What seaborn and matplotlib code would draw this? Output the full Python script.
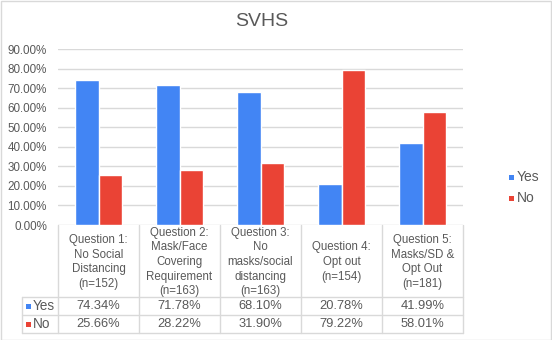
import matplotlib
matplotlib.use("Agg")
import matplotlib.pyplot as plt
import seaborn as sns
import pandas as pd
from matplotlib.transforms import blended_transform_factory
from matplotlib.lines import Line2D
from matplotlib.patches import Rectangle

title = "SVHS"
categories = [
    "Question 1:\nNo Social\nDistancing\n(n=152)",
    "Question 2:\nMask/Face\nCovering\nRequirement\n(n=163)",
    "Question 3:\nNo\nmasks/social\ndistancing\n(n=163)",
    "Question 4:\nOpt out\n(n=154)",
    "Question 5:\nMasks/SD &\nOpt Out\n(n=181)",
]
series_names = ["Yes", "No"]
yes_values = [74.34, 71.78, 68.10, 20.78, 41.99]
no_values = [25.66, 28.22, 31.90, 79.22, 58.01]
yticks = [0, 10, 20, 30, 40, 50, 60, 70, 80, 90]

colors = {"Yes": "#4285F4", "No": "#EA4335"}
text_color = "#595959"
grid_color = "#D9D9D9"

df = pd.DataFrame({
    "category": categories * 2,
    "series": ["Yes"] * len(categories) + ["No"] * len(categories),
    "value": yes_values + no_values,
})

sns.set_theme(style="white")
plt.rcParams["font.family"] = ["Liberation Sans", "DejaVu Sans"]

W, H = 552, 340
fig = plt.figure(figsize=(W / 100, H / 100), dpi=100)
fig.patch.set_facecolor("white")

def fx(px):
    return px / W

def fy(py):
    return 1 - py / H

ax_l, ax_r, ax_t, ax_b = 58, 463, 49, 225
ax = fig.add_axes([fx(ax_l), fy(ax_b), fx(ax_r - ax_l), (ax_b - ax_t) / H])

sns.barplot(data=df, x="category", y="value", hue="series", palette=colors,
            width=0.57, gap=0, ax=ax, legend=False, saturation=1)

ax.set_xlim(-0.5, len(categories) - 0.5)
ax.set_ylim(0, 90)
ax.set_yticks(yticks)
ax.set_yticklabels([f"{v:.2f}%" for v in yticks], color=text_color, fontsize=8.4)
ax.set_xticks([])
ax.set_xlabel("")
ax.set_ylabel("")
ax.tick_params(axis="y", length=0, pad=8)
for s in ax.spines.values():
    s.set_visible(False)
ax.yaxis.grid(True, color=grid_color, linewidth=1)
ax.set_axisbelow(True)

fig.text(fx(262), fy(22), title, ha="center", va="center", fontsize=14, color=text_color)

# Data table
trans = blended_transform_factory(ax.transData, fig.transFigure)
n = len(categories)
row_top = 225
hdr_bot = 297
yes_bot = 315
no_bot = 333
lbl_left = 22
lw = 1.0

for y in [hdr_bot, yes_bot, no_bot]:
    fig.add_artist(Line2D([fx(lbl_left), fx(ax_r)], [fy(y), fy(y)], transform=fig.transFigure,
                          color=grid_color, lw=lw))
for i in range(n + 1):
    fig.add_artist(Line2D([i - 0.5, i - 0.5], [fy(row_top), fy(no_bot)], transform=trans,
                          color=grid_color, lw=lw))
fig.add_artist(Line2D([fx(lbl_left), fx(lbl_left)], [fy(hdr_bot), fy(no_bot)],
                      transform=fig.transFigure, color=grid_color, lw=lw))

for i, cat in enumerate(categories):
    fig.text(i, fy((row_top + hdr_bot) / 2 + 1), cat, transform=trans, ha="center", va="center",
             fontsize=8.3, color=text_color, linespacing=1.28)
    fig.text(i, fy((hdr_bot + yes_bot) / 2), f"{yes_values[i]:.2f}%", transform=trans,
             ha="center", va="center", fontsize=9.3, color=text_color)
    fig.text(i, fy((yes_bot + no_bot) / 2), f"{no_values[i]:.2f}%", transform=trans,
             ha="center", va="center", fontsize=9.3, color=text_color)

for name, (y0, y1) in zip(series_names, [(hdr_bot, yes_bot), (yes_bot, no_bot)]):
    yc = (y0 + y1) / 2
    fig.add_artist(Rectangle((fx(26), fy(yc + 2.5)), fx(5), 5 / H, transform=fig.transFigure,
                             facecolor=colors[name], edgecolor="none"))
    fig.text(fx(33), fy(yc), name, ha="left", va="center", fontsize=9.8, color=text_color)

# Legend
for name, yc in zip(series_names, [177, 198]):
    fig.add_artist(Rectangle((fx(509), fy(yc + 2.5)), fx(5), 5 / H, transform=fig.transFigure,
                             facecolor=colors[name], edgecolor="none"))
    fig.text(fx(517), fy(yc), name, ha="left", va="center", fontsize=10, color=text_color)

# outer border
fig.add_artist(Rectangle((0.5 / W, 0.5 / H), 1 - 1.5 / W, 1 - 1.5 / H, transform=fig.transFigure,
                         facecolor="none", edgecolor=grid_color, lw=1))

fig.savefig("out.png", dpi=100, facecolor="white")
